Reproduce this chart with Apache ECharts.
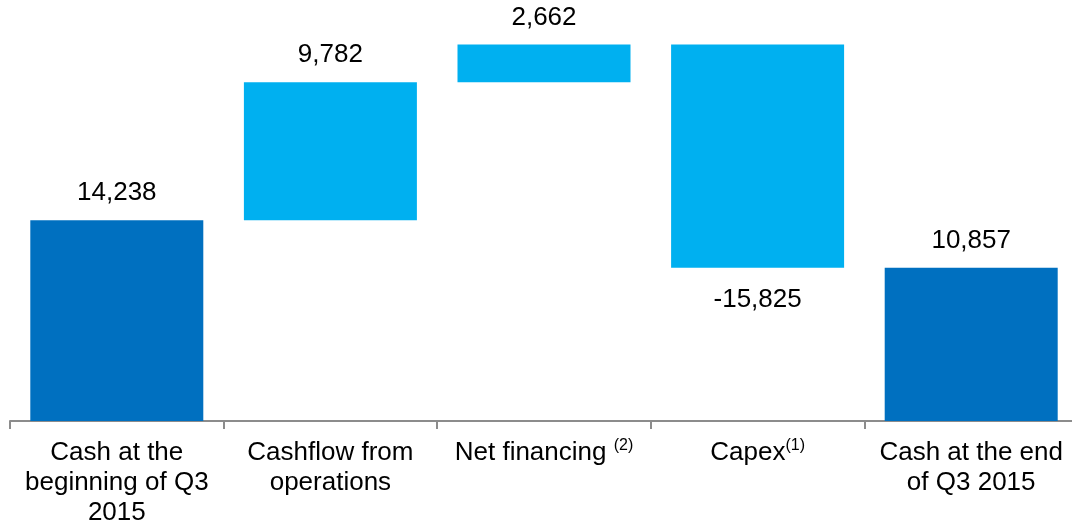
<!DOCTYPE html>
<html>
<head>
<meta charset="utf-8">
<script src="https://cdn.jsdelivr.net/npm/echarts@6/dist/echarts.min.js"></script>
<style>
  html, body { margin: 0; padding: 0; background: #ffffff; }
  #chart { width: 1072px; height: 525px; }
</style>
</head>
<body>
<div id="chart"></div>
<script>
// Cash bridge, Q3 2015
const categories = [
  'Cash at the\nbeginning of Q3\n2015',
  'Cashflow from\noperations',
  'Net financing {sup|(2)}',
  'Capex{sup|(1)}',
  'Cash at the end\nof Q3 2015'
];
// signed movements; first and last entries are totals
const values = [14238, 9782, 2662, -15825, 10857];
const isTotal = [true, false, false, false, true];

const DARK = '#0070C0';
const LIGHT = '#00B0F0';

// invisible base and visible bar heights for the floating steps
const baseData = [];
const barData = [];
let running = 0;
values.forEach((v, i) => {
  if (isTotal[i]) {
    baseData.push(0);
    barData.push(v);
    running = v;
  } else {
    const next = running + v;
    baseData.push(Math.min(running, next));
    barData.push(Math.abs(v));
    running = next;
  }
});

const fmt = v => (v < 0 ? '-' : '') + Math.abs(v).toLocaleString('en-US');

const chart = echarts.init(document.getElementById('chart'));
chart.setOption({
  animation: false,
  textStyle: { fontFamily: 'Liberation Sans, Arial, sans-serif' },
  grid: {
    left: 10, width: 1068, top: 26, bottom: 104,
    containLabel: false, outerBoundsMode: 'none'
  },
  xAxis: {
    type: 'category',
    data: categories,
    axisLine: { lineStyle: { color: '#8c8c8c', width: 2 } },
    axisTick: { show: true, length: 8, lineStyle: { color: '#8c8c8c', width: 2 } },
    axisLabel: {
      interval: 0,
      color: '#000000',
      fontSize: 26,
      lineHeight: 30,
      margin: 17,
      rich: {
        sup: { fontSize: 16, color: '#000000', verticalAlign: 'top', padding: [0, 0, 12, 0] }
      }
    }
  },
  yAxis: {
    type: 'value',
    min: 0,
    max: 28000,
    show: false,
    splitLine: { show: false }
  },
  series: [
    {
      type: 'bar',
      stack: 'bridge',
      data: baseData,
      itemStyle: { color: 'transparent' },
      barWidth: 173,
      silent: true
    },
    {
      type: 'bar',
      stack: 'bridge',
      barWidth: 173,
      data: barData.map((h, i) => ({
        value: h,
        itemStyle: { color: isTotal[i] ? DARK : LIGHT },
        label: {
          show: true,
          position: values[i] < 0 ? 'bottom' : 'top',
          distance: values[i] < 0 ? 19 : 14,
          formatter: () => fmt(values[i]),
          color: '#000000',
          fontSize: 26
        }
      }))
    }
  ]
});
</script>
</body>
</html>
